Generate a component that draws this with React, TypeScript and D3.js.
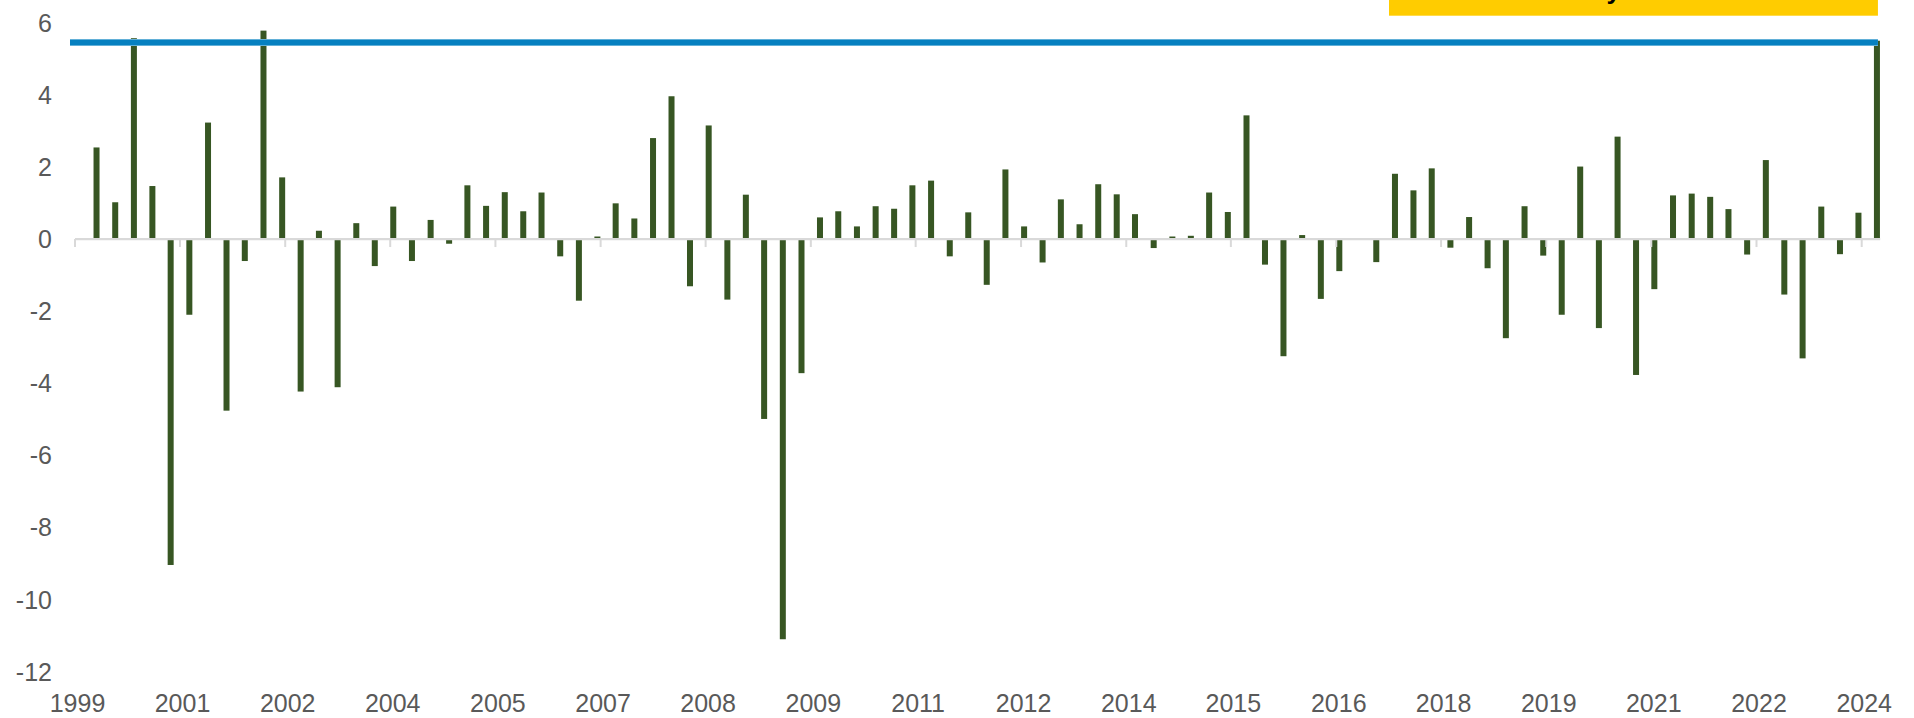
import React from "react";
import * as d3 from "d3";

// quarterly change, Q1 2000 .. Q1 2024
const changes = [
  2.54, 1.02, 5.57, 1.47, -9.04, -2.1, 3.23, -4.76, -0.61, 5.78, 1.71, -4.23, 0.23, -4.11, 0.44, -0.75, 0.9,
  -0.61, 0.53, -0.13, 1.49, 0.92, 1.3, 0.77, 1.29, -0.48, -1.71, 0.07, 0.99, 0.57, 2.8, 3.96, -1.31, 3.15, -1.68, 1.23, -4.99,
  -11.1, -3.72, 0.6, 0.77, 0.35, 0.91, 0.84, 1.49, 1.62, -0.48, 0.74, -1.27, 1.93, 0.35, -0.65, 1.1, 0.41, 1.52, 1.24, 0.69, -0.25,
  0.07, 0.09, 1.29, 0.75, 3.43, -0.71, -3.25, 0.11, -1.66, -0.89, 0, -0.64, 1.81, 1.35, 1.96, -0.24, 0.61, -0.81, -2.75, 0.91,
  -0.46, -2.1, 2.01, -2.47, 2.84, -3.77, -1.39, 1.21, 1.26, 1.17, 0.83, -0.43, 2.19, -1.54, -3.31, 0.9, -0.42, 0.73, 5.5,
];
const currentLevel = 5.45;

const yTicks = [-12, -10, -8, -6, -4, -2, 0, 2, 4, 6];
const xTickLabels = [
  "1999", "2001", "2002", "2004", "2005", "2007", "2008", "2009", "2011",
  "2012", "2014", "2015", "2016", "2018", "2019", "2021", "2022", "2024",
];
const calloutText = "Today";

const W = 1914;
const H = 718;
const axisStart = new Date(1999, 11, 1);
const axisEnd = new Date(2024, 3, 1);

const App = () => {
  // bar dates: middle of each quarter-end month
  const quarters = d3
    .timeMonth.range(new Date(2000, 2, 1), new Date(2024, 3, 1), 3)
    .map(d => d3.timeDay.offset(d, 15));

  const x = d3
    .scaleTime()
    .domain([axisStart, new Date(2024, 0, 1)])
    .range([75, 1861.7]);
  const y = d3.scaleLinear().domain([-12, 6]).range([671.7, 22.7]);

  const tickDates = xTickLabels.map((_, i) => d3.timeMonth.offset(axisStart, 17 * i));
  const barW = 6;
  const lastX = x(quarters[quarters.length - 1]);

  const font = "'Liberation Sans', Arial, sans-serif";

  return (
    <div>
      <style>{`body{margin:0;} svg{display:block;}`}</style>
      <svg width={W} height={H} style={{ background: "#fff" }}>
        {/* callout box, mostly cut off at the top */}
        <rect x={1389} y={0} width={lastX + 1 - 1389} height={15.7} fill="#FFCC00" />
        <text
          x={1621}
          y={-1.5}
          textAnchor="end"
          fontFamily={font}
          fontWeight="bold"
          fontSize={26}
          fill="#000"
        >
          {calloutText}
        </text>

        {/* y labels */}
        {yTicks.map(t => (
          <text
            key={t}
            x={52}
            y={y(t)}
            dy="0.36em"
            textAnchor="end"
            fontFamily={font}
            fontSize={25}
            fill="#595959"
          >
            {t}
          </text>
        ))}

        {/* bars */}
        {changes.map((v, i) => (
          <rect
            key={i}
            x={x(quarters[i]) - barW / 2}
            y={y(Math.max(0, v))}
            width={barW}
            height={Math.abs(y(v) - y(0))}
            fill="#375623"
          />
        ))}

        {/* zero axis + ticks */}
        <line x1={x(axisStart)} x2={x(axisEnd)} y1={y(0)} y2={y(0)} stroke="#D9D9D9" strokeWidth={2.2} />
        {tickDates.map((d, i) => (
          <line key={i} x1={x(d)} x2={x(d)} y1={y(0)} y2={y(0) + 8} stroke="#D9D9D9" strokeWidth={2} />
        ))}
        {tickDates.map((d, i) => (
          <text
            key={"l" + i}
            x={x(d) + 2.5}
            y={712}
            textAnchor="middle"
            fontFamily={font}
            fontSize={25}
            fill="#595959"
          >
            {xTickLabels[i]}
          </text>
        ))}

        {/* current level line */}
        <line
          x1={x(axisStart) - 5}
          x2={lastX + 1}
          y1={y(currentLevel)}
          y2={y(currentLevel)}
          stroke="#BFE0F0"
          strokeWidth={7}
        />
        <line
          x1={x(axisStart) - 5}
          x2={lastX + 1}
          y1={y(currentLevel)}
          y2={y(currentLevel)}
          stroke="#0680C0"
          strokeWidth={6}
        />
      </svg>
    </div>
  );
};

export default App;
